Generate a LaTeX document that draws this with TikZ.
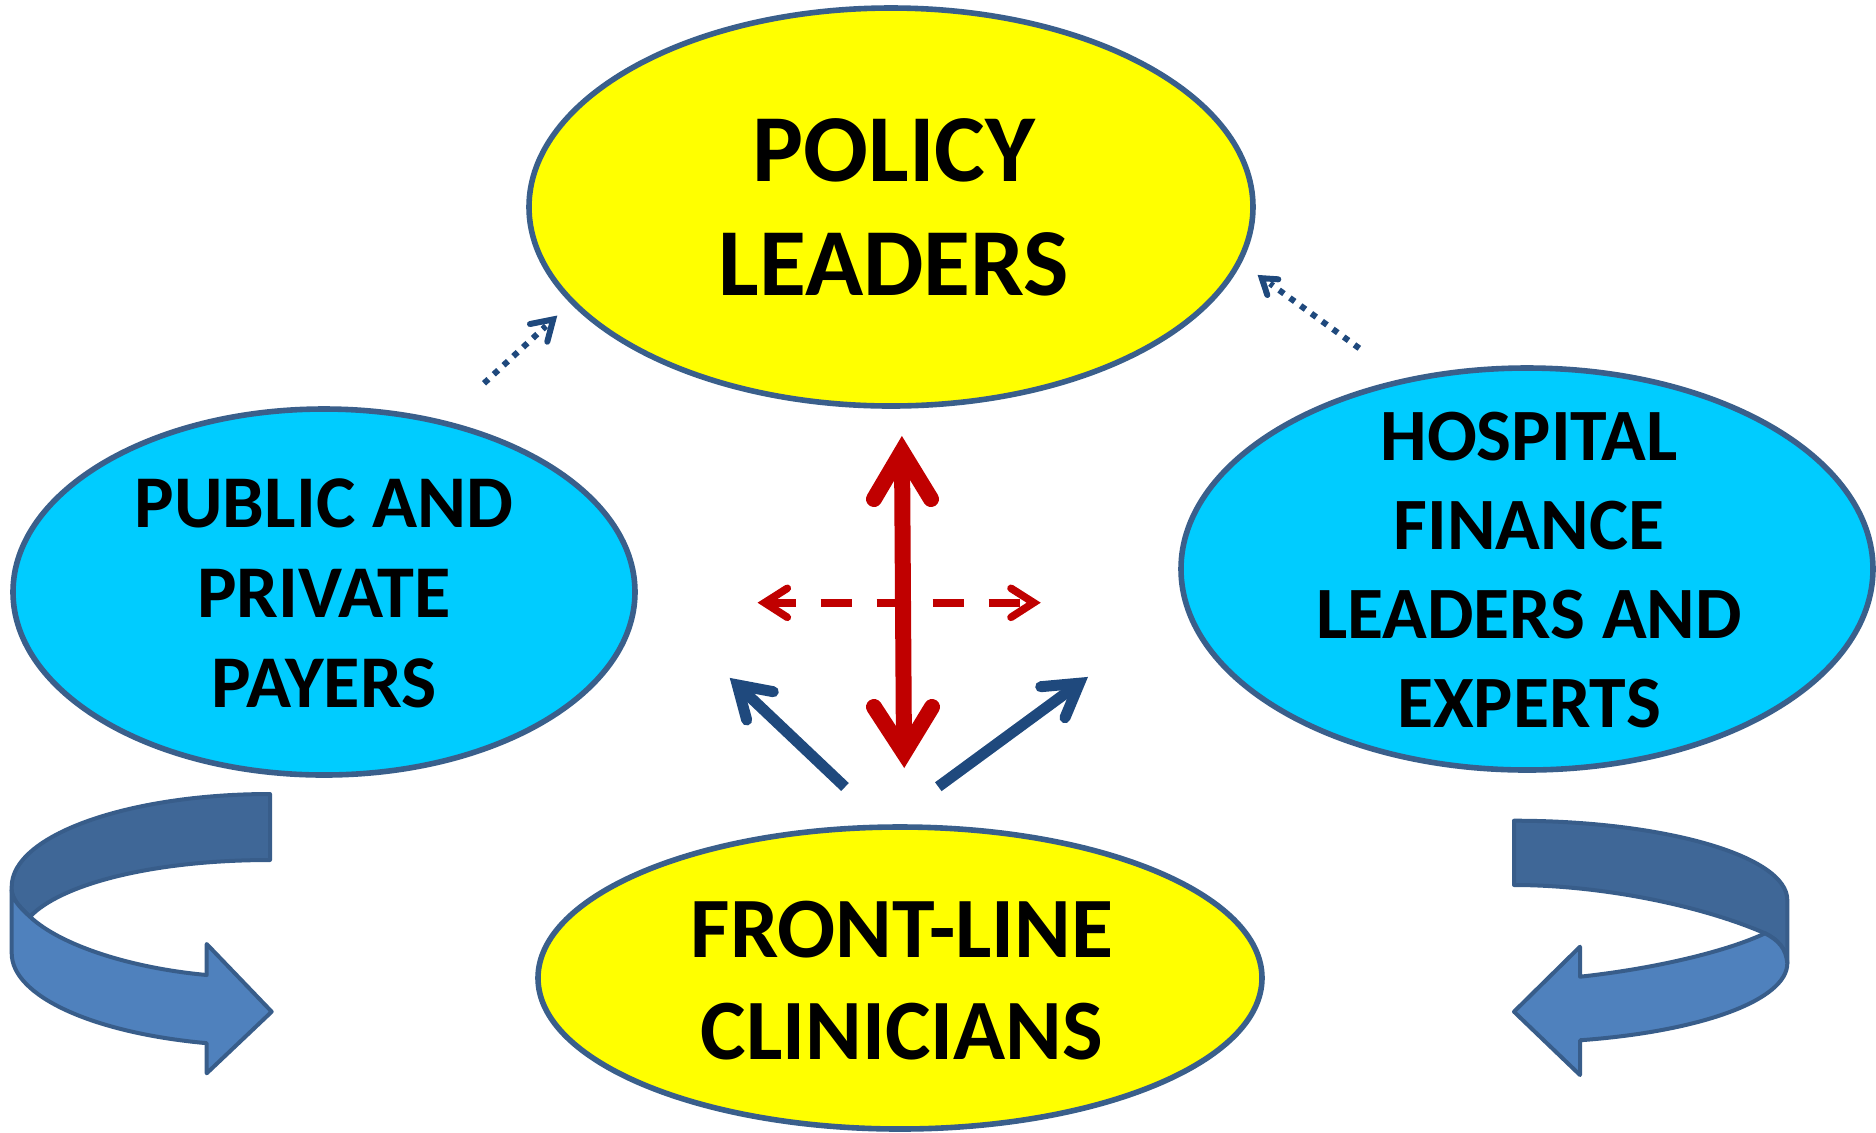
\documentclass[tikz,border=0pt]{standalone}
\usepackage{fontspec}
\setmainfont{Carlito}
\usetikzlibrary{shapes.geometric}
\definecolor{edgeblue}{HTML}{3A5F8B}
\definecolor{yel}{HTML}{FFFF00}
\definecolor{cyanfill}{HTML}{00CCFF}
\definecolor{darkred}{HTML}{C00000}
\definecolor{navy}{HTML}{1F497D}
\definecolor{ribbonlight}{HTML}{4F81BD}
\definecolor{ribbondark}{HTML}{3F6797}
\definecolor{ribbonedge}{HTML}{385D8A}
\begin{document}
\begin{tikzpicture}[x=0.5pt,y=-0.5pt,
  ell/.style={ellipse, draw=edgeblue, line width=2.8pt, inner sep=0pt},
  yellowell/.style={ell, fill=yel},
  cyanell/.style={ell, fill=cyanfill},
  lbl/.style={align=center, inner sep=0pt, text=black},
  redline/.style={draw=darkred, line width=8pt},
  reddash/.style={draw=darkred, line width=3.8pt, dash pattern=on 15.85pt off 12.15pt},
  redhead/.style={draw=darkred, line width=3.8pt, line cap=round, line join=miter},
  bluearrow/.style={draw=navy, line width=5.5pt},
  bluehead/.style={draw=navy, line width=5.5pt, line cap=round, line join=miter},
  dotline/.style={draw=navy, line width=3pt, dash pattern=on 3pt off 3.65pt},
  dothead/.style={draw=navy, line width=3pt, line cap=round, line join=miter},
  ribbonback/.style={fill=ribbondark, draw=ribbonedge, line width=2pt, line join=round},
  ribbonfront/.style={fill=ribbonlight, draw=ribbonedge, line width=2pt, line join=round}
]
\useasboundingbox (0,0) rectangle (1876,1132);

% ellipses
\node[yellowell, minimum width=362pt, minimum height=199pt] (policy) at (891,207) {};
\node[cyanell, minimum width=311pt, minimum height=183pt] (payers) at (324,592) {};
\node[cyanell, minimum width=346pt, minimum height=201pt] (hospital) at (1527,569) {};
\node[yellowell, minimum width=362pt, minimum height=151pt] (clinicians) at (900,978) {};

% labels
\node[lbl, font=\bfseries\fontsize{48pt}{57.2pt}\selectfont] (policyT) at (894,207.5) {POLICY\\LEADERS};
\node[lbl, font=\bfseries\fontsize{37.2pt}{45pt}\selectfont] (payersT) at (324,593.5) {PUBLIC AND\\PRIVATE\\PAYERS};
\node[lbl, font=\bfseries\fontsize{36.9pt}{44.5pt}\selectfont] (hospitalT) at (1529,570) {HOSPITAL\\FINANCE\\LEADERS AND\\EXPERTS};
\node[lbl, font=\bfseries\fontsize{43pt}{51pt}\selectfont] (cliniciansT) at (902,981) {FRONT-LINE\\CLINICIANS};

% red dashed horizontal double arrow
\coordinate (rhL) at (764.6,602.7);
\coordinate (rhE) at (1020.3,602.7);
\coordinate (rhR) at (1033.7,602.7);
\draw[reddash] (rhL) -- (rhE);
\draw[redhead] (787.3,588.3) -- (rhL) -- (787.3,617.3);
\draw[redhead] (1011,588.3) -- (rhR) -- (1011,617.3);

% red vertical double arrow
\coordinate (rvT) at (902,451.5);
\coordinate (rvB) at (904,753);
\draw[redline] (rvT) -- (rvB);
\draw[redline, line cap=round, line join=miter] (874,499) -- (rvT) -- (931,499);
\draw[redline, line cap=round, line join=miter] (874,707) -- (rvB) -- (932,707);

% blue solid arrows
\coordinate (blT) at (845,787);
\coordinate (blH) at (737.3,684.9);
\draw[bluearrow] (blT) -- (blH);
\draw[bluehead] (773.3,691.7) -- (blH) -- (746.7,720);
\coordinate (brT) at (938.3,786.7);
\coordinate (brH) at (1079.4,683.2);
\draw[bluearrow] (brT) -- (brH);
\draw[bluehead] (1040.7,686.7) -- (brH) -- (1065,717.7);

% dotted arrows
\coordinate (dlT) at (484,383.3);
\coordinate (dlE) at (546,326);
\coordinate (dlH) at (553.2,319.4);
\draw[dotline] (dlT) -- (dlE);
\draw[dothead] (530,324) -- (dlH) -- (547.3,341.7);
\coordinate (drT) at (1359.3,348.3);
\coordinate (drE) at (1270,283.5);
\coordinate (drH) at (1261.8,278.2);
\draw[dotline] (drT) -- (drE);
\draw[dothead] (1278.3,279.3) -- (drH) -- (1267.3,295);

% left curved ribbon arrow
\path[ribbonback] (270,794) arc[start angle=270, end angle=180, x radius=258.3, y radius=92.7]
  -- (11.7,890) .. controls (12,898) and (18,906) .. (30,916.7)
  .. controls (60,885) and (150,860) .. (270,860) -- cycle;
\path[ribbonfront] (11.7,890) -- (11.7,953.3)
  arc[start angle=180, end angle=104.2, x radius=258.3, y radius=92.7]
  -- (206.7,1073.3) -- (271.7,1011.7) -- (206.7,944) -- (206.7,975)
  .. controls (130,968) and (60,945) .. (30,916.7)
  .. controls (18,906) and (12,898) .. (11.7,890) -- cycle;

% right curved ribbon arrow
\path[ribbonback] (1514,820.7) arc[start angle=270, end angle=360, x radius=273.3, y radius=79.3]
  -- (1787.3,963.3) .. controls (1786,948) and (1778,940) .. (1765,933.3)
  .. controls (1700,905) and (1600,885) .. (1514,885) -- cycle;
\path[ribbonfront] (1765,933.3) .. controls (1778,940) and (1786,948) .. (1787.3,963.3)
  arc[start angle=0, end angle=76, x radius=273.3, y radius=79.3]
  -- (1580,1075) -- (1514,1011.7) -- (1580,946.7) -- (1580,976.7)
  .. controls (1660,968) and (1730,950) .. (1765,933.3) -- cycle;
\end{tikzpicture}
\end{document}
